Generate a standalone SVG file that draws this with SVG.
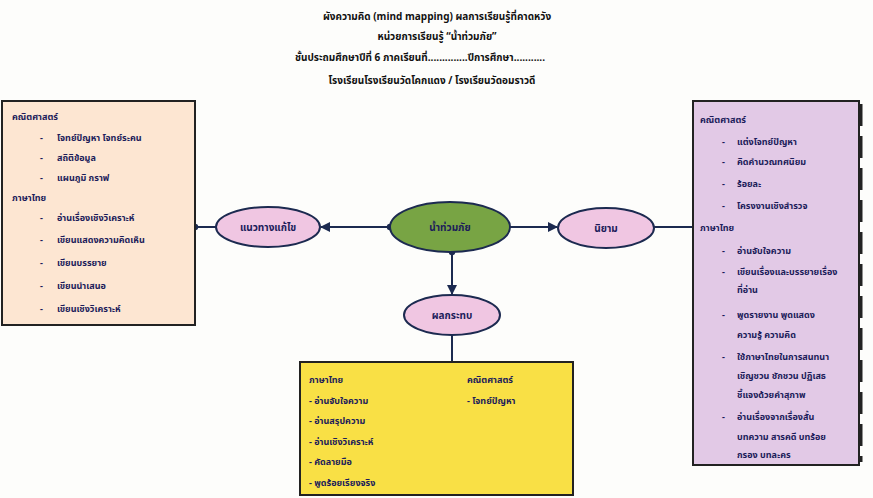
<svg xmlns="http://www.w3.org/2000/svg" width="873" height="498" viewBox="0 0 873 498">
<defs>
<style>
text{font-family:"Noto Sans Thai","Noto Sans","DejaVu Sans",sans-serif;font-weight:bold;fill:#1c1c5a;font-size:9px}
.title{font-size:10px;fill:#111;text-anchor:middle}
.head{font-size:9px}
.nd{text-anchor:middle;font-size:10px}
.box{stroke:#222;stroke-width:2}
.ell{stroke:#1c2a50;stroke-width:2}
.con{stroke:#1c2a50;stroke-width:2;fill:none}
</style>
<marker id="ar" viewBox="0 0 10 10" refX="9" refY="5" markerWidth="5" markerHeight="5" orient="auto-start-reverse"><path d="M0,0L10,5L0,10z" fill="#1c2a50"/></marker>
<marker id="dt" viewBox="0 0 10 10" refX="5" refY="5" markerWidth="4" markerHeight="4"><circle cx="5" cy="5" r="4" fill="#1c2a50"/></marker>
</defs>
<rect width="873" height="498" fill="#fdfdfb"/>
<g id="title">
<text class="title" x="437" y="20">ผังความคิด (mind mapping) ผลการเรียนรู้ที่คาดหวัง</text>
<text class="title" x="437" y="40">หน่วยการเรียนรู้ “น้ำท่วมภัย”</text>
<text class="title" x="420" y="61">ชั้นประถมศึกษาปีที่ 6  ภาคเรียนที่..............ปีการศึกษา...........</text>
<text class="title" x="432" y="84">โรงเรียนโรงเรียนวัดโคกแดง / โรงเรียนวัดอมราวดี</text>
</g>
<g id="connectors">
<line class="con" x1="195" y1="227" x2="216" y2="227" marker-start="url(#dt)"/>
<line class="con" x1="390" y1="227" x2="321" y2="227" marker-start="url(#dt)" marker-end="url(#ar)"/>
<line class="con" x1="510" y1="227" x2="557" y2="227" marker-end="url(#ar)"/>
<line class="con" x1="654" y1="227" x2="693" y2="227"/>
<line class="con" x1="452" y1="252" x2="452" y2="294" marker-start="url(#dt)" marker-end="url(#ar)"/>
<line class="con" x1="452" y1="335" x2="452" y2="362"/>
</g>
<g id="left-box">
<rect class="box" x="2" y="101" width="193" height="224" fill="#fde6d2"/>
<text class="head" x="12" y="120">คณิตศาสตร์</text>
<text x="40" y="141">-</text><text x="57" y="141">โจทย์ปัญหา โจทย์ระคน</text>
<text x="40" y="161">-</text><text x="57" y="161">สถิติข้อมูล</text>
<text x="40" y="181">-</text><text x="57" y="181">แผนภูมิ กราฟ</text>
<text class="head" x="12" y="201">ภาษาไทย</text>
<text x="40" y="221">-</text><text x="57" y="221">อ่านเรื่องเชิงวิเคราะห์</text>
<text x="40" y="243">-</text><text x="57" y="243">เขียนแสดงความคิดเห็น</text>
<text x="40" y="266">-</text><text x="57" y="266">เขียนบรรยาย</text>
<text x="40" y="289">-</text><text x="57" y="289">เขียนนำเสนอ</text>
<text x="40" y="312">-</text><text x="57" y="312">เขียนเชิงวิเคราะห์</text>
</g>
<g id="node-solution">
<ellipse class="ell" cx="268" cy="227" rx="52" ry="20" fill="#f0c6e2"/>
<text class="nd" x="268" y="231">แนวทางแก้ไข</text>
</g>
<g id="node-center">
<ellipse class="ell" cx="450" cy="227" rx="60" ry="25" fill="#78a444"/>
<text class="nd" x="450" y="231">น้ำท่วมภัย</text>
</g>
<g id="node-definition">
<ellipse class="ell" cx="606" cy="228" rx="48" ry="20" fill="#f0c6e2"/>
<text class="nd" x="606" y="232">นิยาม</text>
</g>
<g id="node-impact">
<ellipse class="ell" cx="452" cy="315" rx="48" ry="20" fill="#f0c6e2"/>
<text class="nd" x="452" y="319">ผลกระทบ</text>
</g>
<g id="right-box">
<rect class="box" x="693" y="101" width="166" height="364" fill="#e2c9e6"/>
<line x1="861" y1="104" x2="861" y2="462" stroke="#222" stroke-width="3" stroke-dasharray="22 10"/>
<text class="head" x="700" y="123">คณิตศาสตร์</text>
<text x="722" y="145">-</text><text x="737" y="145">แต่งโจทย์ปัญหา</text>
<text x="722" y="165">-</text><text x="737" y="165">คิดคำนวณทศนิยม</text>
<text x="722" y="187">-</text><text x="737" y="187">ร้อยละ</text>
<text x="722" y="209">-</text><text x="737" y="209">โครงงานเชิงสำรวจ</text>
<text class="head" x="700" y="231">ภาษาไทย</text>
<text x="722" y="254">-</text><text x="737" y="254">อ่านจับใจความ</text>
<text x="722" y="275">-</text><text x="737" y="275">เขียนเรื่องและบรรยายเรื่อง</text>
<text x="737" y="293">ที่อ่าน</text>
<text x="722" y="318">-</text><text x="737" y="318">พูดรายงาน พูดแสดง</text>
<text x="737" y="338">ความรู้ ความคิด</text>
<text x="722" y="360">-</text><text x="737" y="360">ใช้ภาษาไทยในการสนทนา</text>
<text x="737" y="379">เชิญชวน ชักชวน ปฏิเสธ</text>
<text x="737" y="398">ชี้แจงด้วยคำสุภาพ</text>
<text x="722" y="420">-</text><text x="737" y="420">อ่านเรื่องจากเรื่องสั้น</text>
<text x="737" y="440">บทความ สารคดี บทร้อย</text>
<text x="737" y="458">กรอง บทละคร</text>
</g>
<g id="bottom-box">
<rect class="box" x="300" y="362" width="273" height="133" fill="#f9e045"/>
<text class="head" x="309" y="383">ภาษาไทย</text>
<text x="309" y="404">- อ่านจับใจความ</text>
<text x="309" y="424">- อ่านสรุปความ</text>
<text x="309" y="445">- อ่านเชิงวิเคราะห์</text>
<text x="309" y="465">- คัดลายมือ</text>
<text x="309" y="486">- พูดร้อยเรียงจริง</text>
<text class="head" x="467" y="383">คณิตศาสตร์</text>
<text x="467" y="404">- โจทย์ปัญหา</text>
</g>
</svg>
